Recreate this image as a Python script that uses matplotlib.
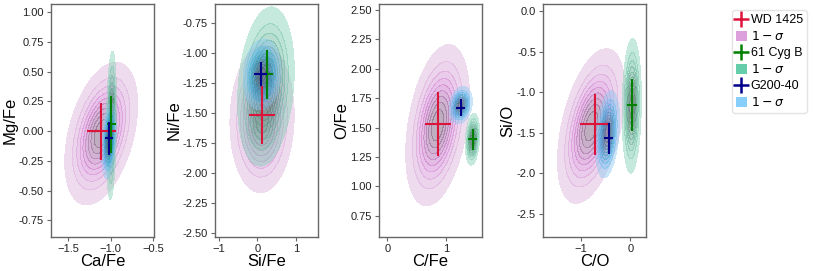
import numpy as np
import matplotlib
matplotlib.use("Agg")
from matplotlib import pyplot as plt
from matplotlib.colors import ListedColormap, to_rgb
from matplotlib.lines import Line2D
from matplotlib.patches import Patch
from seaborn.external import husl

plt.rcParams['font.family'] = ['Liberation Sans', 'DejaVu Sans']

stars = ["WD 1425", "61 Cyg B", "G200-40"]
cross_colors = ["crimson", "green", "darkblue"]
fill_colors = ["plum", "mediumaquamarine", "lightskyblue"]

x_labels = ["Ca/Fe", "Si/Fe", "C/Fe", "C/O"]
y_labels = ["Mg/Fe", "Ni/Fe", "O/Fe", "Si/O"]

# measured abundance ratios (one value per panel)
wd_x = [-1.11, 0.11, 0.85, -0.71]
wd_xerr = [0.17, 0.34, 0.22, 0.30]
wd_y = [0.00, -1.52, 1.53, -1.40]
wd_yerr = [0.24, 0.24, 0.27, 0.38]

cyg_x = [-0.99, 0.24, 1.44, 0.03]
cyg_xerr = [0.05, 0.17, 0.08, 0.10]
cyg_y = [0.06, -1.18, 1.40, -1.16]
cyg_yerr = [0.24, 0.20, 0.09, 0.32]

g200_x = [-1.02, 0.09, 1.24, -0.44]
g200_xerr = [0.05, 0.17, 0.08, 0.10]
g200_y = [-0.06, -1.18, 1.67, -1.57]
g200_yerr = [0.14, 0.10, 0.07, 0.19]

# 1-sigma clouds: centre, spread and correlation per panel
wd_cx = [-1.11, 0.12, 0.85, -0.79]
wd_cy = [-0.02, -1.55, 1.52, -1.42]
wd_sx = [0.175, 0.34, 0.22, 0.28]
wd_sy = [0.245, 0.25, 0.28, 0.39]
wd_rho = [0.4, 0.05, 0.35, 0.45]

cyg_cx = [-0.99, 0.22, 1.44, 0.03]
cyg_cy = [0.05, -1.28, 1.40, -1.17]
cyg_sx = [0.025, 0.30, 0.05, 0.08]
cyg_sy = [0.255, 0.27, 0.09, 0.34]
cyg_rho = [0.2, 0.2, 0.2, 0.1]

g200_cx = [-1.02, 0.12, 1.24, -0.46]
g200_cy = [-0.08, -1.18, 1.69, -1.52]
g200_sx = [0.035, 0.20, 0.08, 0.10]
g200_sy = [0.13, 0.12, 0.065, 0.22]
g200_rho = [0.3, 0.1, 0.2, 0.3]

xlims = [(-1.7, -0.49), (-1.1, 1.57), (-0.14, 1.6), (-1.77, 0.32)]
ylims = [(-0.89, 1.07), (-2.53, -0.595), (0.57, 2.55), (-2.79, 0.087)]
xticks = [[-1.5, -1.0, -0.5], [-1, 0, 1], [0, 1], [-1, 0]]
yticks = [np.arange(-0.75, 1.01, 0.25), np.arange(-2.5, -0.74, 0.25),
          np.arange(0.75, 2.51, 0.25), np.arange(-2.5, 0.01, 0.5)]
lefts = [51, 215, 379, 543]


def cmap_from(color):
    r, g, b = to_rgb(color)
    h, s, _ = husl.rgb_to_husl(r, g, b)
    xx = np.linspace(-1, 1, int(1.15 * 256))[:256]
    ll = np.linspace(35, 80, 256)
    ramp = [husl.husl_to_rgb(h, s * np.cos(a), l) for a, l in zip(xx, ll)]
    return ListedColormap(np.clip(ramp, 0, 1)[::-1])


def cloud(ax, cx, cy, sx, sy, rho, color):
    x0, x1 = ax.get_xlim()
    y0, y1 = ax.get_ylim()
    X, Y = np.meshgrid(np.linspace(x0, x1, 300), np.linspace(y0, y1, 300))
    dx = (X - cx) / sx
    dy = (Y - cy) / sy
    q = (dx**2 - 2 * rho * dx * dy + dy**2) / (1 - rho**2)
    z = np.exp(-0.5 * q)
    levels = np.linspace(0.05, 1.0, 10)
    levels[-1] = 1.01
    ax.contourf(X, Y, z, levels=levels, cmap=cmap_from(color), alpha=0.45,
                antialiased=False)


fig = plt.figure(figsize=(8.14, 2.71), dpi=100)

for i in range(4):
    ax = fig.add_axes([lefts[i] / 814, 34 / 271, 103 / 814, 233 / 271])
    ax.set_xlim(xlims[i])
    ax.set_ylim(ylims[i])
    cloud(ax, wd_cx[i], wd_cy[i], wd_sx[i], wd_sy[i], wd_rho[i], fill_colors[0])
    cloud(ax, cyg_cx[i], cyg_cy[i], cyg_sx[i], cyg_sy[i], cyg_rho[i], fill_colors[1])
    cloud(ax, g200_cx[i], g200_cy[i], g200_sx[i], g200_sy[i], g200_rho[i], fill_colors[2])
    ax.errorbar(wd_x[i], wd_y[i], xerr=wd_xerr[i], yerr=wd_yerr[i],
                color=cross_colors[0], elinewidth=1.5, capsize=0)
    ax.errorbar(cyg_x[i], cyg_y[i], xerr=cyg_xerr[i], yerr=cyg_yerr[i],
                color=cross_colors[1], elinewidth=1.5, capsize=0)
    ax.errorbar(g200_x[i], g200_y[i], xerr=g200_xerr[i], yerr=g200_yerr[i],
                color=cross_colors[2], elinewidth=1.5, capsize=0)
    ax.set_xticks(xticks[i])
    ax.set_yticks(yticks[i])
    if i == 3:
        ax.set_yticklabels(["%.1f" % v for v in yticks[i]])
    else:
        ax.set_yticklabels(["%.2f" % v for v in yticks[i]])
    ax.set_xlabel(x_labels[i], fontsize=12, labelpad=0)
    ax.set_ylabel(y_labels[i], fontsize=12, labelpad=1)
    ax.tick_params(labelsize=8, length=3, color="#666666", labelcolor="#222222", pad=2)
    for sp in ax.spines.values():
        sp.set_color("#666666")
        sp.set_linewidth(1)

handles = []
for c, f in zip(cross_colors, fill_colors):
    handles.append(Line2D([], [], color=c, marker="+", linestyle="none",
                          markersize=11, markeredgewidth=1.8))
    handles.append(Patch(facecolor=f, edgecolor="none"))
labels = ["WD 1425", r"$1-\sigma$", "61 Cyg B", r"$1-\sigma$", "G200-40", r"$1-\sigma$"]
fig.legend(handles, labels, loc="upper left", bbox_to_anchor=(732 / 814, 1 - 10 / 271),
           fontsize=9, handlelength=0.9, handleheight=0.9, handletextpad=0.3,
           borderpad=0.3, labelspacing=0.3, borderaxespad=0, edgecolor="#dddddd")

plt.savefig("out.png", dpi=100)
